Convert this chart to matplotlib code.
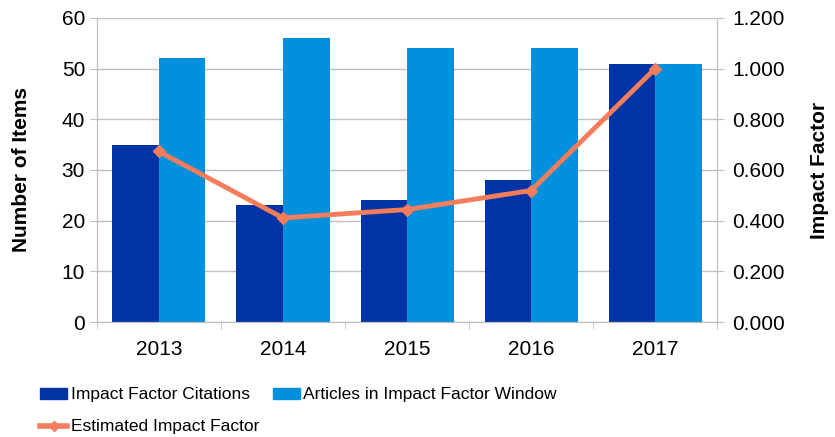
import numpy as np
from matplotlib import pyplot as plt
from matplotlib.lines import Line2D
from matplotlib.patches import Patch

years = ["2013", "2014", "2015", "2016", "2017"]
citations = [35, 23, 24, 28, 51]
articles = [52, 56, 54, 54, 51]
impact = [0.673, 0.411, 0.444, 0.519, 1.000]

dark = "#0033A6"
light = "#0090DD"
orange = "#F47E5C"
grid = "#BFBFBF"

plt.rcParams["font.family"] = ["Liberation Sans", "DejaVu Sans"]

fig = plt.figure(figsize=(8.35, 4.37), dpi=100)
ax = fig.add_axes([0.116, 0.263, 0.743, 0.696])
ax2 = ax.twinx()

x = np.arange(len(years))
w = 0.375
ax.bar(x - w / 2, citations, w, color=dark, zorder=2)
ax.bar(x + w / 2, articles, w, color=light, zorder=2)

ax.set_xlim(-0.5, len(years) - 0.5)
ax.set_ylim(0, 60)
ax.set_yticks(range(0, 61, 10))
ax.yaxis.grid(True, color=grid, linewidth=1, zorder=0)
ax.set_axisbelow(True)
ax.set_xticks(x)
ax.set_xticklabels(years, fontsize=15)
ax.set_xticks(np.arange(-0.5, len(years)), minor=True)
ax.tick_params(axis="x", which="major", length=0, pad=13)
ax.tick_params(axis="x", which="minor", length=5, color=grid)
ax.tick_params(axis="y", labelsize=15, length=5, color=grid)
ax.set_ylabel("Number of Items", fontsize=15, fontweight="bold", labelpad=22)

ax2.plot(x, impact, color=orange, linewidth=3.5, marker="D", markersize=6, zorder=3)
ax2.set_ylim(0, 1.2)
ax2.set_yticks(np.arange(0, 1.21, 0.2))
ax2.set_yticklabels([f"{v:.3f}" for v in np.arange(0, 1.21, 0.2)])
ax2.tick_params(axis="y", labelsize=15, length=5, color=grid, pad=6)
ax2.set_ylabel("Impact Factor", fontsize=15, fontweight="bold", labelpad=18)

for a in (ax, ax2):
    a.spines["top"].set_visible(False)
    for s in ("left", "right", "bottom"):
        a.spines[s].set_color(grid)

handles = [
    Patch(color=dark, label="Impact Factor Citations"),
    Line2D([0], [0], color=orange, linewidth=4, marker="D", markersize=5,
           label="Estimated Impact Factor"),
    Patch(color=light, label="Articles in Impact Factor Window"),
]
fig.legend(handles=handles, ncol=2, loc="upper left", bbox_to_anchor=(0.04, 0.13),
           frameon=False, prop={"size": 12.5},
           handlelength=1.55, handleheight=0.6, handletextpad=0.2, columnspacing=0.8,
           labelspacing=1.0, borderaxespad=0)

fig.savefig("out.png", dpi=100)
